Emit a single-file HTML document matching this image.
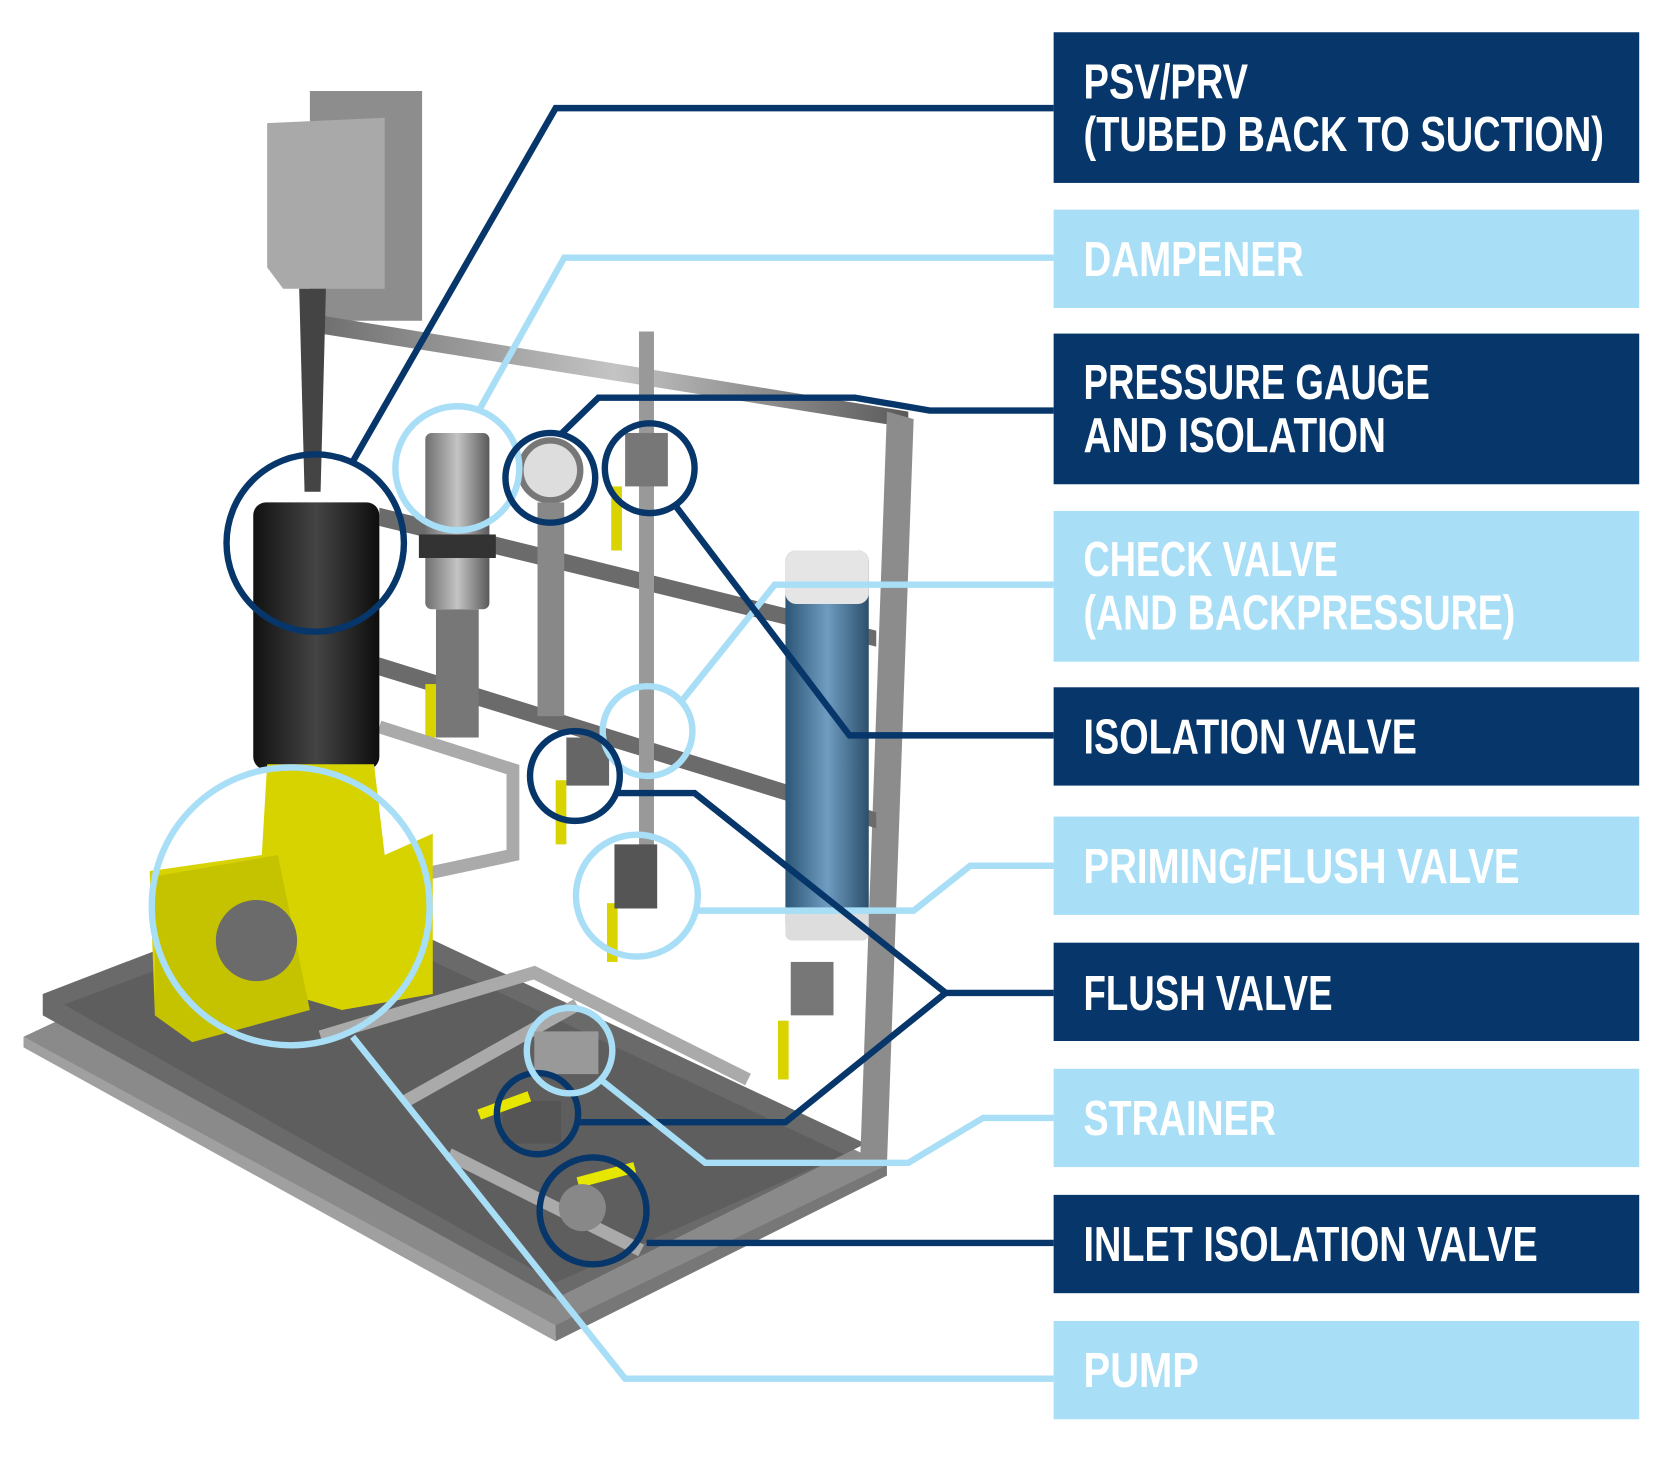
<!DOCTYPE html>
<html><head><style>html,body{margin:0;padding:0;background:#fff}svg{display:block}</style></head><body>
<svg width="1667" height="1459" viewBox="0 0 1560 1365" xmlns="http://www.w3.org/2000/svg">
<defs>
<linearGradient id="st" x1="0" x2="1"><stop offset="0" stop-color="#6f6f6f"/><stop offset=".5" stop-color="#c4c4c4"/><stop offset="1" stop-color="#5a5a5a"/></linearGradient>
<linearGradient id="bl" x1="0" x2="1"><stop offset="0" stop-color="#2c5677"/><stop offset=".5" stop-color="#6f9cc0"/><stop offset="1" stop-color="#2c4f6c"/></linearGradient>
<linearGradient id="bk" x1="0" x2="1"><stop offset="0" stop-color="#111"/><stop offset=".5" stop-color="#444"/><stop offset="1" stop-color="#0d0d0d"/></linearGradient>
</defs>
<polygon points="22,970 300,840 830,1090 520,1250" fill="#8a8a8a"/>
<polygon points="40,930 300,830 810,1070 520,1215 40,950" fill="#6a6a6a"/>
<polygon points="22,970 520,1240 520,1255 22,980" fill="#a0a0a0"/>
<polygon points="520,1240 830,1090 830,1100 520,1255" fill="#777"/>
<polygon points="60,940 300,850 790,1080 520,1200" fill="#5e5e5e"/>
<polygon points="290,85 395,85 395,300 290,300" fill="#8d8d8d"/>
<polygon points="250,115 360,110 360,270 265,270 250,250" fill="#a9a9a9"/>
<polygon points="300,295 850,385 850,400 300,312" fill="url(#st)"/>
<polygon points="830,385 855,392 830,1090 805,1085" fill="#8c8c8c"/>
<polygon points="355,475 820,590 820,605 355,492" fill="#6b6b6b"/>
<polygon points="355,615 820,760 820,775 355,632" fill="#6b6b6b"/>
<polygon points="598,310 612,310 612,800 598,800" fill="#999"/>
<polygon points="280,270 305,270 300,460 285,460" fill="#444"/>
<rect x="398" y="405" width="60" height="165" rx="6" fill="url(#st)"/>
<rect x="392" y="500" width="72" height="22" fill="#333"/>
<rect x="408" y="570" width="40" height="120" fill="#777"/>
<circle cx="515" cy="440" r="28" fill="#ddd" stroke="#777" stroke-width="6"/>
<rect x="503" y="470" width="25" height="200" fill="#888"/>
<rect x="585" y="405" width="40" height="50" fill="#777"/>
<rect x="572" y="455" width="10" height="60" fill="#d9d400"/>
<rect x="398" y="640" width="10" height="50" fill="#d9d400"/>
<rect x="520" y="730" width="10" height="60" fill="#d9d400"/>
<rect x="568" y="845" width="10" height="55" fill="#d9d400"/>
<rect x="728" y="955" width="10" height="55" fill="#d9d400"/>
<rect x="575" y="790" width="40" height="60" fill="#555"/>
<rect x="530" y="690" width="40" height="45" fill="#666"/>
<rect x="740" y="900" width="40" height="50" fill="#777"/>
<rect x="735" y="515" width="78" height="360" rx="10" fill="url(#bl)"/>
<rect x="735" y="515" width="78" height="50" rx="10" fill="#e5e5e5"/>
<rect x="735" y="850" width="78" height="30" rx="6" fill="#ddd"/>
<path d="M355,680 L480,720 L480,800 L340,830 M300,970 L500,910 L700,1010 M380,1030 L540,940 M420,1080 L600,1170" stroke="#aaa" stroke-width="12" fill="none"/>
<rect x="500" y="965" width="60" height="40" fill="#999"/>
<rect x="470" y="1030" width="55" height="40" fill="#555"/>
<rect x="447" y="1030" width="50" height="10" fill="#e6e600" transform="rotate(-20 470 1035)"/>
<rect x="540" y="1095" width="55" height="10" fill="#e6e600" transform="rotate(-15 565 1100)"/>
<circle cx="545" cy="1130" r="22" fill="#888"/>
<rect x="237" y="470" width="118" height="250" rx="12" fill="url(#bk)"/>
<polygon points="250,715 350,715 360,800 405,780 405,930 320,945 270,930 180,975 145,950 140,815 245,800" fill="#d7d300"/>
<polygon points="145,820 260,800 290,945 180,975 145,950" fill="#c5c200"/>
<circle cx="240" cy="880" r="38" fill="#6b6b6b"/>
<g fill="none" stroke-width="6">
<circle cx="295" cy="508" r="83" stroke="#06366a"/>
<circle cx="428" cy="438" r="58" stroke="#a8def6"/>
<circle cx="515" cy="447" r="42" stroke="#06366a"/>
<circle cx="608" cy="438" r="42" stroke="#06366a"/>
<circle cx="606" cy="684" r="42" stroke="#a8def6"/>
<circle cx="596" cy="838" r="57" stroke="#a8def6"/>
<circle cx="538" cy="726" r="42" stroke="#06366a"/>
<circle cx="503" cy="1042" r="38" stroke="#06366a"/>
<circle cx="533" cy="983" r="40" stroke="#a8def6"/>
<circle cx="555" cy="1133" r="50" stroke="#06366a"/>
<circle cx="272" cy="848" r="130" stroke="#a8def6"/>
</g>
<g fill="none" stroke-width="6" stroke-linejoin="miter">
<polyline points="986,101 520,101 330,432" stroke="#06366a"/>
<polyline points="986,241 528,241 447,386" stroke="#a8def6"/>
<polyline points="986,384 870,384 800,372 560,372 525,406" stroke="#06366a"/>
<polyline points="986,547 725,547 637,657" stroke="#a8def6"/>
<polyline points="986,688 795,688 632,473" stroke="#06366a"/>
<polyline points="986,810 908,810 855,852 653,852" stroke="#a8def6"/>
<polyline points="986,929 885,929 650,742 578,742" stroke="#06366a"/>
<polyline points="885,929 735,1050 541,1050" stroke="#06366a"/>
<polyline points="986,1046 920,1046 850,1088 660,1088 562,1010" stroke="#a8def6"/>
<polyline points="986,1163 605,1163" stroke="#06366a"/>
<polyline points="986,1290 585,1290 330,970" stroke="#a8def6"/>
</g>
<g>
<rect x="986" y="30" width="548" height="141" fill="#06366a"/>
<rect x="986" y="196" width="548" height="92" fill="#a8def6"/>
<rect x="986" y="312" width="548" height="141" fill="#06366a"/>
<rect x="986" y="478" width="548" height="141" fill="#a8def6"/>
<rect x="986" y="643" width="548" height="92" fill="#06366a"/>
<rect x="986" y="764" width="548" height="92" fill="#a8def6"/>
<rect x="986" y="882" width="548" height="92" fill="#06366a"/>
<rect x="986" y="1000" width="548" height="92" fill="#a8def6"/>
<rect x="986" y="1118" width="548" height="92" fill="#06366a"/>
<rect x="986" y="1236" width="548" height="92" fill="#a8def6"/>
</g>
<g fill="#fff" font-family="'Liberation Sans',sans-serif" font-weight="bold" font-size="46" lengthAdjust="spacingAndGlyphs">
<text x="1014" y="92" textLength="154" lengthAdjust="spacingAndGlyphs">PSV/PRV</text>
<text x="1014" y="141" textLength="487" lengthAdjust="spacingAndGlyphs">(TUBED BACK TO SUCTION)</text>
<text x="1014" y="258" textLength="206" lengthAdjust="spacingAndGlyphs">DAMPENER</text>
<text x="1014" y="373" textLength="324" lengthAdjust="spacingAndGlyphs">PRESSURE GAUGE</text>
<text x="1014" y="423" textLength="283" lengthAdjust="spacingAndGlyphs">AND ISOLATION</text>
<text x="1014" y="539" textLength="238" lengthAdjust="spacingAndGlyphs">CHECK VALVE</text>
<text x="1014" y="589" textLength="404" lengthAdjust="spacingAndGlyphs">(AND BACKPRESSURE)</text>
<text x="1014" y="705" textLength="312" lengthAdjust="spacingAndGlyphs">ISOLATION VALVE</text>
<text x="1014" y="826" textLength="408" lengthAdjust="spacingAndGlyphs">PRIMING/FLUSH VALVE</text>
<text x="1014" y="945" textLength="233" lengthAdjust="spacingAndGlyphs">FLUSH VALVE</text>
<text x="1014" y="1062" textLength="180" lengthAdjust="spacingAndGlyphs">STRAINER</text>
<text x="1014" y="1180" textLength="425" lengthAdjust="spacingAndGlyphs">INLET ISOLATION VALVE</text>
<text x="1014" y="1298" textLength="108" lengthAdjust="spacingAndGlyphs">PUMP</text>
</g>
</svg>
</body></html>
